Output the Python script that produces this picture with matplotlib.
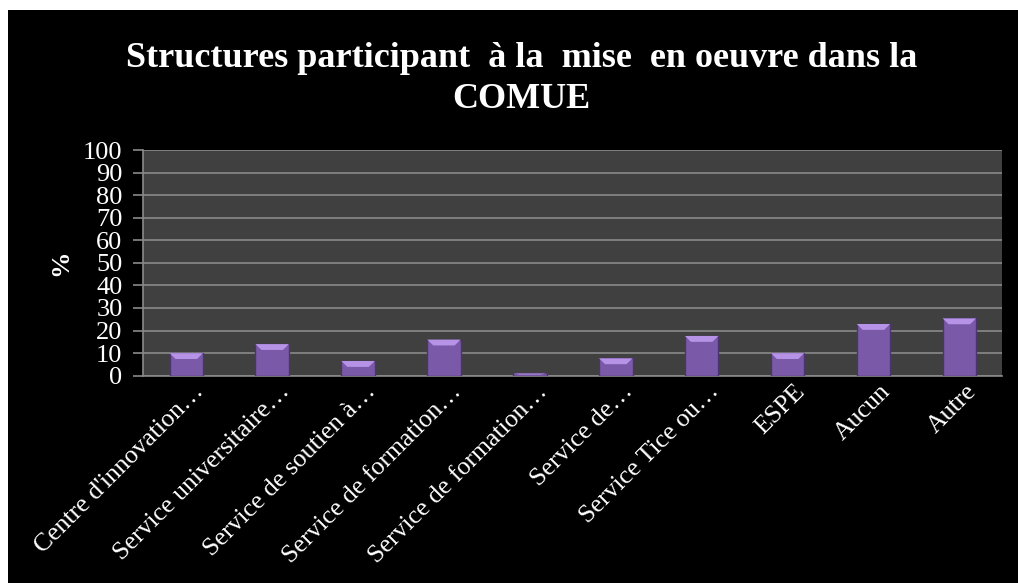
import matplotlib
matplotlib.use('Agg')
import matplotlib.pyplot as plt
import matplotlib.transforms as mtransforms
from matplotlib.patches import Rectangle, Polygon

categories = [
    "Centre d'innovation\u2026",
    "Service universitaire\u2026",
    "Service de soutien \u00e0\u2026",
    "Service de formation\u2026",
    "Service de formation\u2026",
    "Service de\u2026",
    "Service Tice ou\u2026",
    "ESPE",
    "Aucun",
    "Autre",
]
percentages = [10, 14, 6.5, 16, 1, 7.7, 17.6, 10, 22.9, 25.4]
y_ticks = list(range(0, 101, 10))

SERIF = ['Liberation Serif', 'DejaVu Serif']
BAR = '#7a5aa8'
BAR_EDGE = '#4b3470'
BAR_TOP = '#b693e6'

fig = plt.figure(figsize=(10.18, 5.83), dpi=100, facecolor='white')
# black chart area inside a thin white margin
fig.patches.append(Rectangle((8 / 1018, 0), 1, 1 - 10 / 583,
                             transform=fig.transFigure, facecolor='black',
                             edgecolor='none', zorder=-10))

ax = fig.add_axes((0.1408, 0.3556, 0.8438, 0.3871))
ax.set_zorder(2)
ax.set_facecolor('#404040')

x = list(range(len(categories)))
bars = ax.bar(x, percentages, width=0.39, color=BAR, edgecolor=BAR_EDGE,
              linewidth=1.0, zorder=3)

# bevelled top face on each bar
for b in bars:
    bx, bw, bh = b.get_x(), b.get_width(), b.get_height()
    band = min(2.6, bh * 0.5)
    inset = bw * 0.18
    ax.add_patch(Polygon([(bx, bh), (bx + bw, bh), (bx + bw - inset, bh - band),
                          (bx + inset, bh - band)], closed=True,
                         facecolor=BAR_TOP, edgecolor='none', zorder=4))

ax.set_xlim(-0.5, len(categories) - 0.5)
ax.set_ylim(0, 100)
ax.set_yticks(y_ticks)
ax.yaxis.grid(True, color='#8a8a8a', linewidth=1.2, zorder=1)
ax.set_axisbelow(True)

for side in ('top', 'right'):
    ax.spines[side].set_visible(False)
for side in ('left', 'bottom'):
    ax.spines[side].set_color('#8a8a8a')
    ax.spines[side].set_linewidth(1.2)

ax.tick_params(axis='y', colors='#8a8a8a', length=7, width=1.2, pad=8,
               labelcolor='white', labelsize=19)
ax.tick_params(axis='x', length=0, pad=9)
for lbl in ax.get_yticklabels():
    lbl.set_family(SERIF)

ax.set_xticks(x)
ax.set_xticklabels(categories, rotation=45, ha='right', va='center',
                   rotation_mode='anchor', color='white', fontsize=18.5,
                   family=SERIF)
shift = mtransforms.ScaledTranslation(14 / 100, 0, fig.dpi_scale_trans)
for lbl in ax.get_xticklabels():
    lbl.set_transform(lbl.get_transform() + shift)

ax.set_ylabel('%', color='white', fontsize=19, fontweight='bold', family=SERIF,
              labelpad=8)

fig.text(0.512, 0.865, 'Structures participant  \u00e0 la  mise  en oeuvre dans la\nCOMUE',
         ha='center', va='center', color='white', fontsize=26, fontweight='bold',
         family=SERIF, linespacing=1.32)

fig.savefig('out.png', dpi=100, facecolor='white')
